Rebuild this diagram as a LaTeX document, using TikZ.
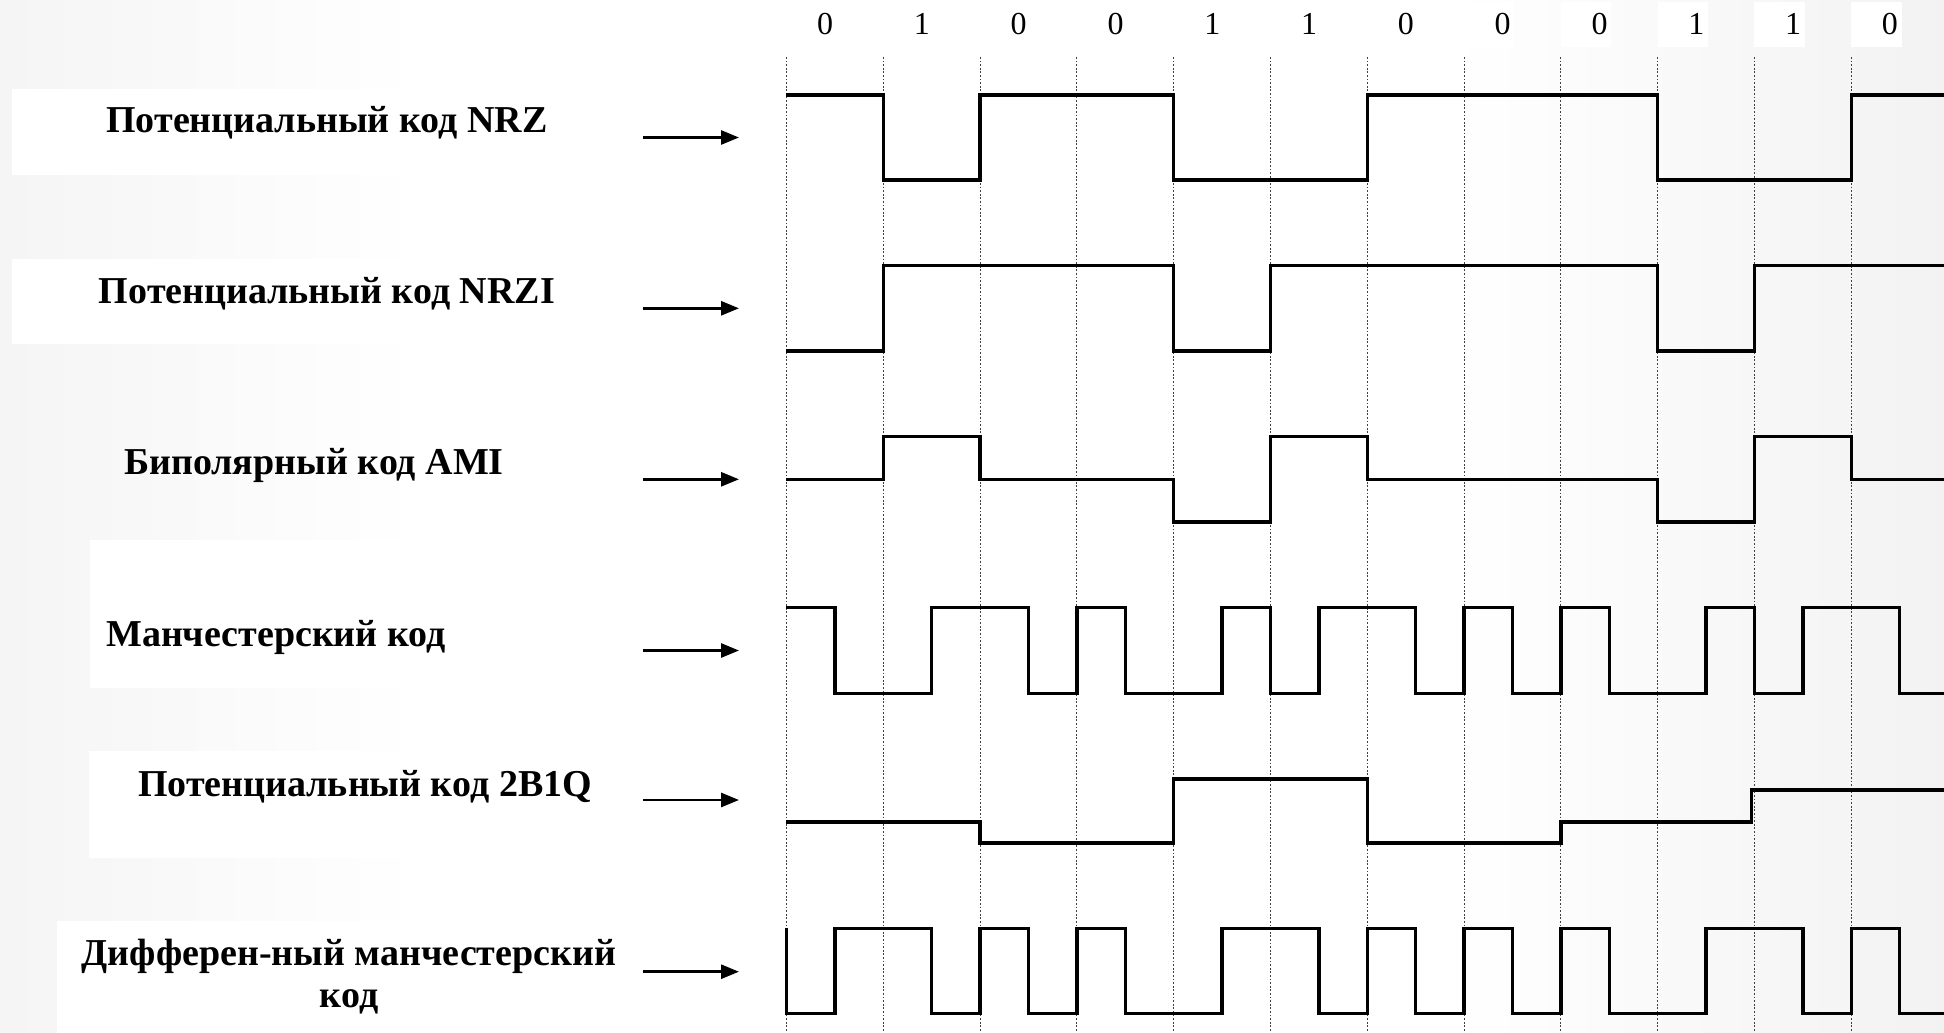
\documentclass[tikz,border=0pt]{standalone}
\usepackage{fontspec}
\setmainfont{Liberation Serif}
\usetikzlibrary{arrows.meta, calc}
\tikzset{
  sig/.style={line width=1.7pt, line join=miter},
  grid line/.style={line width=0.5pt, black!75, dash pattern=on 0.9pt off 0.9pt},
  code label/.style={font=\bfseries\fontsize{19}{21}\selectfont, align=center, inner sep=0pt},
  bit label/.style={font=\fontsize{16}{18}\selectfont, inner sep=0pt},
  label box/.style={fill=white, draw=none},
  in arrow/.style={line width=1.4pt, -{Triangle[length=9pt, width=7pt]}}
}

\begin{document}
\begin{tikzpicture}[x=0.5pt, y=-0.5pt]
 \useasboundingbox (0,0) rectangle (1944,1033);
 \shade[left color=black!4, right color=white] (0,0) rectangle (420,1033);
 \shade[left color=white, right color=black!5] (1450,0) rectangle (1944,1033);
 \fill[label box] (12,89) rectangle (620,175);
 \fill[label box] (12,259) rectangle (620,344);
 \fill[label box] (90,540) rectangle (620,688);
 \fill[label box] (89,751) rectangle (620,858);
 \fill[label box] (57,921) rectangle (620,1033);
 \node[code label] (nrz) at (327,123) {Потенциальный код NRZ};
 \node[code label] (nrzi) at (327,294) {Потенциальный код NRZI};
 \node[code label] (ami) at (314,465) {Биполярный код AMI};
 \node[code label] (manch) at (276,637) {Манчестерский код};
 \node[code label] (twobq) at (365,787) {Потенциальный код 2B1Q};
 \node[code label] (dmanch) at (349,977) {Дифферен-ный манчестерский\\код};
 \foreach \y [count=\i] in {137.5,308.3,479.3,650.5,800,971.7} {
  \coordinate (from\i) at (643,\y);
  \coordinate (to\i) at (739,\y);
  \draw[in arrow] (from\i) -- (to\i);
 }
 \begin{scope}[xshift=393.2pt, x=48.4pt]
  \foreach \b [count=\i from 0] in {0,1,0,0,1,1,0,0,0,1,1,0} {
   \fill[white] (\i,2) rectangle ++(0.52,45);
   \node[bit label] (bit\i) at (\i+0.4,24) {\b};
   \draw[grid line] (\i,57) -- (\i,1033);
  }
  \draw[sig] (0,95) -| (1,180) -| (2,95) -| (4,180) -| (6,95) -| (9,180) -| (11,95) -- (12,95);
  \draw[sig] (0,351) -| (1,265.7) -| (4,351) -| (5,265.7) -| (9,351) -| (10,265.7) -- (12,265.7);
  \draw[sig] (0,479.3) -| (1,436.7) -| (2,479.3) -| (4,522) -| (5,436.7) -| (6,479.3) -| (9,522) -| (10,436.7) -| (11,479.3) -- (12,479.3);
  \draw[sig] (0,607.7) -| (0.5,693.3) -| (1.5,607.7) -| (2.5,693.3) -| (3,607.7) -| (3.5,693.3) -| (4.5,607.7) -| (5,693.3) -| (5.5,607.7) -| (6.5,693.3) -| (7,607.7) -| (7.5,693.3) -| (8,607.7) -| (8.5,693.3) -| (9.5,607.7) -| (10,693.3) -| (10.5,607.7) -| (11.5,693.3) -- (12,693.3);
  \draw[sig] (0,822) -| (2,843) -| (4,779) -| (6,843) -| (8,822) -| (9.97,790) -- (12,790);
  \draw[sig] (0,928.3) -- (0,1013.3) -| (0.5,928.3) -| (1.5,1013.3) -| (2,928.3) -| (2.5,1013.3) -| (3,928.3) -| (3.5,1013.3) -| (4.5,928.3) -| (5.5,1013.3) -| (6,928.3) -| (6.5,1013.3) -| (7,928.3) -| (7.5,1013.3) -| (8,928.3) -| (8.5,1013.3) -| (9.5,928.3) -| (10.5,1013.3) -| (11,928.3) -| (11.5,1013.3) -- (12,1013.3);
 \end{scope}
\end{tikzpicture}
\end{document}
